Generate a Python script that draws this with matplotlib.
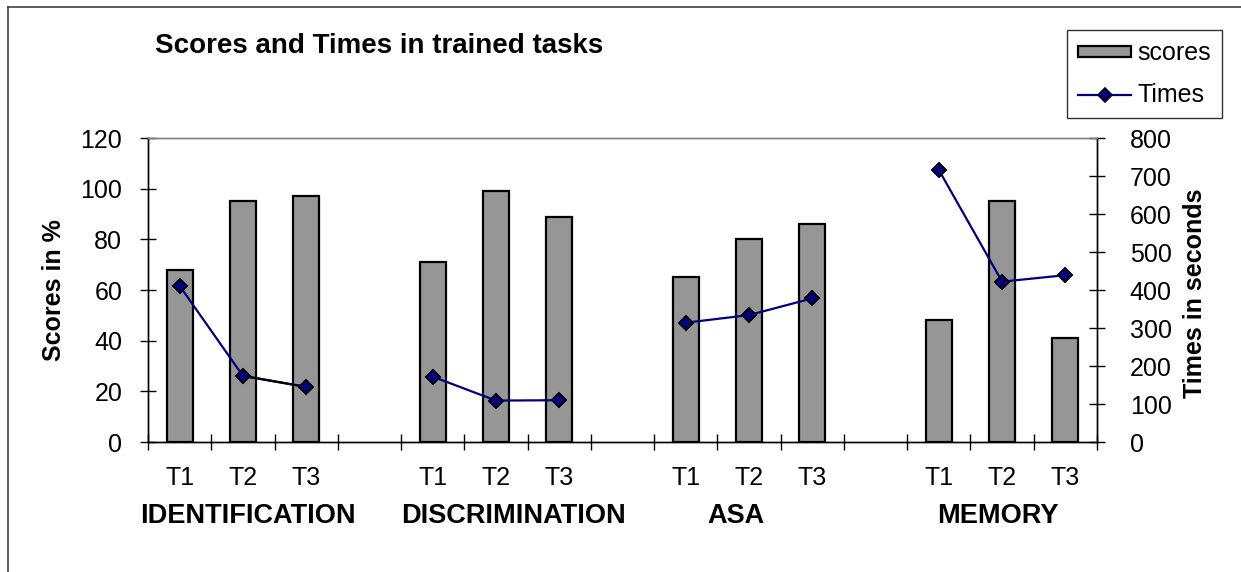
import numpy as np
import matplotlib
matplotlib.use('Agg')
import matplotlib.pyplot as plt
import matplotlib.transforms as mtransforms
from matplotlib.lines import Line2D

plt.rcParams['font.family'] = ['Liberation Sans', 'DejaVu Sans']

# data (nan = empty slot between groups)
categories = ['T1', 'T2', 'T3', '', 'T1', 'T2', 'T3', '', 'T1', 'T2', 'T3', '', 'T1', 'T2', 'T3']
groups = ['IDENTIFICATION', 'DISCRIMINATION', 'ASA', 'MEMORY']
scores = [68, 95, 97, np.nan, 71, 99, 89, np.nan, 65, 80, 86, np.nan, 48, 95, 41]
times = [411, 174, 145, np.nan, 172, 109, 110, np.nan, 314, 334, 378, np.nan, 716, 422, 439]

x = np.arange(len(categories))
group_x = [1.08, 5.28, 8.79, 12.93]

W, H = 1241, 572
fig = plt.figure(figsize=(W / 100, H / 100), dpi=100)
ax = fig.add_axes([148 / W, 1 - 442 / H, 949 / W, 304 / H])

bars = ax.bar(x, scores, width=0.41, color='#969696', edgecolor='black',
              linewidth=1.6, label='scores', zorder=2)
ax.set_xlim(-0.5, len(categories) - 0.5)
ax.set_ylim(0, 120)
ax.set_yticks(range(0, 121, 20))
ax.set_xticks(np.arange(-0.5, len(categories)))
ax.set_xticklabels([])
ax.set_xticks(x, categories, minor=True)
ax.tick_params(axis='x', which='major', direction='inout', length=11, width=1)
ax.tick_params(axis='x', which='minor', length=0, labelsize=18, pad=17)
ax.tick_params(axis='y', direction='inout', length=11, width=1, labelsize=18, pad=13)

ax2 = ax.twinx()
line, = ax2.plot(x, times, color='#000080', lw=1.6, marker='D', ms=7,
                 mfc='#000080', mec='black', mew=1.2, label='Times', zorder=2)
ax2.plot(x[1:3], times[1:3], color='black', lw=1.6, zorder=2.5)
ax2.plot(x, times, ls='none', marker='D', ms=7, mfc='#000080', mec='black',
         mew=1.2, zorder=3)
ax2.set_ylim(0, 800)
ax2.set_yticks(range(0, 801, 100))
ax2.tick_params(axis='y', direction='inout', length=11, width=1, labelsize=18, pad=18)

for a in (ax, ax2):
    a.spines['top'].set_color('#808080')
    for s in ('left', 'right', 'bottom'):
        a.spines[s].set_color('black')
    for s in a.spines.values():
        s.set_linewidth(1.0)

trans = mtransforms.blended_transform_factory(ax.transData, ax.transAxes)
for gx, g in zip(group_x, groups):
    ax.text(gx, -0.245, g, transform=trans, ha='center', va='center',
            fontsize=19.5, fontweight='bold')

fig.text(54 / W, 1 - 290 / H, 'Scores in %', rotation=90, ha='center', va='center',
         fontsize=18, fontweight='bold')
fig.text(1195 / W, 1 - 293 / H, 'Times in seconds', rotation=90, ha='center', va='center',
         fontsize=18, fontweight='bold')
fig.text(155 / W, 1 - 46 / H, 'Scores and Times in trained tasks', ha='left', va='center',
         fontsize=20, fontweight='bold')

leg = fig.legend([bars, line], ['scores', 'Times'], loc='upper left',
                 bbox_to_anchor=(1067 / W, 1 - 30 / H), frameon=True, fancybox=False,
                 edgecolor='black', fontsize=18, handlelength=2.1, handleheight=0.3,
                 labelspacing=0.7, borderpad=0.45, handletextpad=0.25, borderaxespad=0)
leg.get_frame().set_linewidth(1.0)

# outer chart border
fig.add_artist(Line2D([8 / W, 8 / W], [0, 1 - 7 / H], transform=fig.transFigure,
                      color='#404040', lw=1.2))
fig.add_artist(Line2D([8 / W, 1], [1 - 7 / H, 1 - 7 / H], transform=fig.transFigure,
                      color='#404040', lw=1.2))

fig.savefig('out.png', dpi=100)
